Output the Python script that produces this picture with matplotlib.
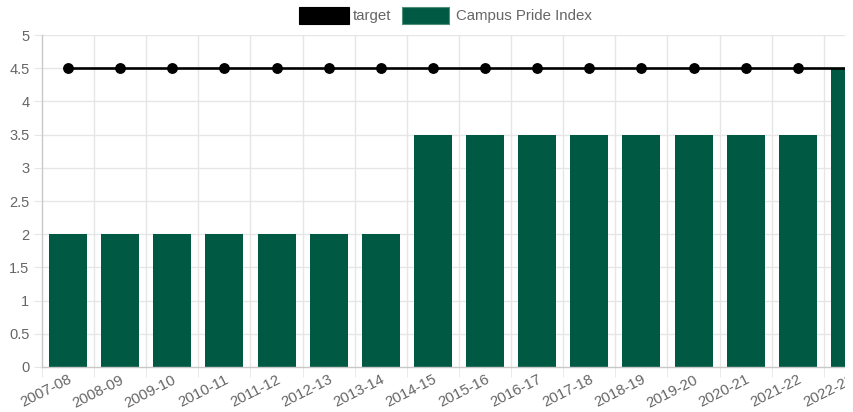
import matplotlib
matplotlib.use("Agg")
import matplotlib.pyplot as plt
from matplotlib.patches import Rectangle

plt.rcParams['font.family'] = ['Liberation Sans', 'DejaVu Sans']

categories = ["2007-08", "2008-09", "2009-10", "2010-11", "2011-12", "2012-13",
              "2013-14", "2014-15", "2015-16", "2016-17", "2017-18", "2018-19",
              "2019-20", "2020-21", "2021-22", "2022-23"]
pride_index = [2, 2, 2, 2, 2, 2, 2, 3.5, 3.5, 3.5, 3.5, 3.5, 3.5, 3.5, 3.5, 4.5]
target = [4.5] * 16
y_ticks = [0, 0.5, 1, 1.5, 2, 2.5, 3, 3.5, 4, 4.5, 5]

W, H = 854, 412
GREEN = '#005a43'
GRID = '#e6e6e6'
AXIS = '#c8c8c8'
TXT = '#666666'

fig = plt.figure(figsize=(W / 100, H / 100), dpi=100)
ax = fig.add_axes([42 / W, (H - 367) / H, 834 / W, 332 / H])

x = list(range(len(categories)))
ax.bar(x, pride_index, width=0.73, color=GREEN, zorder=2)
ax.plot(x, target, color='black', linewidth=1.9, marker='o', markersize=6.8,
        zorder=3, clip_on=True)

ax.set_xlim(-0.5, len(categories) - 0.5)
ax.set_ylim(0, 5)
ax.set_yticks(y_ticks)
ax.set_yticklabels([f"{v:g}" for v in y_ticks])
ax.set_xticks(x)
ax.set_xticklabels(categories, rotation=27, ha='right', rotation_mode='anchor')

# grid
for v in y_ticks[1:]:
    ax.axhline(v, color=GRID, linewidth=1, zorder=0)
for i in range(1, len(categories) + 1):
    ax.axvline(i - 0.5, color=GRID, linewidth=1, zorder=0)

for s in ['top', 'right']:
    ax.spines[s].set_visible(False)
for s in ['left', 'bottom']:
    ax.spines[s].set_color(AXIS)
    ax.spines[s].set_linewidth(1)

ax.tick_params(axis='y', length=6, color=GRID, labelcolor=TXT, labelsize=10.5, pad=3)
ax.tick_params(axis='x', length=7, color=GRID, labelcolor=TXT, labelsize=10.8, pad=4)
ax.set_xticks([i - 0.5 for i in range(len(categories) + 1)], minor=True)
ax.tick_params(axis='x', which='minor', length=7, color=GRID)
ax.tick_params(axis='x', which='major', length=0)

# legend drawn in pixel coordinates
def px(xp, yp):
    return xp / W, 1 - yp / H

fig.add_artist(Rectangle(px(299, 24), 50 / W, 17 / H, transform=fig.transFigure,
                         facecolor='black', edgecolor='black', linewidth=0.8))
fig.text(*px(353, 16), "target", color=TXT, fontsize=10.8, va='center', ha='left')
fig.add_artist(Rectangle(px(402, 24), 47 / W, 17 / H, transform=fig.transFigure,
                         facecolor=GREEN, edgecolor='#4f8f7b', linewidth=0.8))
fig.text(*px(456, 16), "Campus Pride Index", color=TXT, fontsize=10.8,
         va='center', ha='left')

# canvas clipping at right edge
fig.add_artist(Rectangle((845 / W, 0), 9 / W, 1, transform=fig.transFigure,
                         facecolor='white', edgecolor='none', zorder=20))

fig.savefig('out.png', dpi=100, facecolor='white')
